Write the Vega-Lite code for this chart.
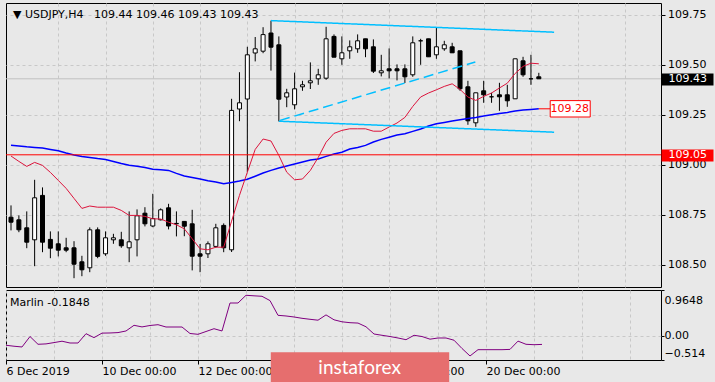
{
  "$schema": "https://vega.github.io/schema/vega-lite/v6.json",
  "background": "#e8e8e8",
  "padding": {"left": 3, "top": 2, "right": 0, "bottom": 0},
  "spacing": 1,
  "datasets": {
    "bars": [
      {"k":0,"open":108.738,"high":108.797,"low":108.672,"close":108.713,"ma_fast":109.044,"ma_slow":109.098,"marlin":-0.203},
      {"k":1,"open":108.725,"high":108.747,"low":108.663,"close":108.675,"ma_fast":109.017,"ma_slow":109.094,"marlin":-0.223},
      {"k":2,"open":108.685,"high":108.767,"low":108.583,"close":108.613,"ma_fast":108.992,"ma_slow":109.090,"marlin":-0.239},
      {"k":3,"open":108.625,"high":108.925,"low":108.493,"close":108.835,"ma_fast":109.012,"ma_slow":109.087,"marlin":-0.018},
      {"k":4,"open":108.847,"high":108.887,"low":108.563,"close":108.613,"ma_fast":108.997,"ma_slow":109.084,"marlin":-0.182},
      {"k":5,"open":108.627,"high":108.667,"low":108.533,"close":108.583,"ma_fast":108.962,"ma_slow":109.077,"marlin":-0.174},
      {"k":6,"open":108.605,"high":108.667,"low":108.542,"close":108.573,"ma_fast":108.922,"ma_slow":109.070,"marlin":-0.146},
      {"k":7,"open":108.585,"high":108.635,"low":108.563,"close":108.573,"ma_fast":108.882,"ma_slow":109.059,"marlin":-0.117},
      {"k":8,"open":108.585,"high":108.618,"low":108.433,"close":108.503,"ma_fast":108.832,"ma_slow":109.049,"marlin":-0.155},
      {"k":9,"open":108.515,"high":108.545,"low":108.443,"close":108.475,"ma_fast":108.782,"ma_slow":109.042,"marlin":-0.155},
      {"k":10,"open":108.485,"high":108.687,"low":108.463,"close":108.675,"ma_fast":108.794,"ma_slow":109.037,"marlin":0.042},
      {"k":11,"open":108.675,"high":108.687,"low":108.533,"close":108.542,"ma_fast":108.788,"ma_slow":109.031,"marlin":-0.041},
      {"k":12,"open":108.555,"high":108.667,"low":108.545,"close":108.635,"ma_fast":108.788,"ma_slow":109.026,"marlin":0.054},
      {"k":13,"open":108.625,"high":108.655,"low":108.605,"close":108.635,"ma_fast":108.788,"ma_slow":109.017,"marlin":0.057},
      {"k":14,"open":108.625,"high":108.665,"low":108.585,"close":108.595,"ma_fast":108.772,"ma_slow":109.007,"marlin":0.065},
      {"k":15,"open":108.585,"high":108.767,"low":108.513,"close":108.615,"ma_fast":108.747,"ma_slow":108.998,"marlin":0.099},
      {"k":16,"open":108.625,"high":108.777,"low":108.542,"close":108.745,"ma_fast":108.747,"ma_slow":108.993,"marlin":0.219},
      {"k":17,"open":108.758,"high":108.788,"low":108.692,"close":108.705,"ma_fast":108.742,"ma_slow":108.987,"marlin":0.185},
      {"k":18,"open":108.694,"high":108.855,"low":108.688,"close":108.731,"ma_fast":108.730,"ma_slow":108.978,"marlin":0.215},
      {"k":19,"open":108.725,"high":108.782,"low":108.722,"close":108.775,"ma_fast":108.729,"ma_slow":108.975,"marlin":0.232},
      {"k":20,"open":108.785,"high":108.805,"low":108.677,"close":108.694,"ma_fast":108.713,"ma_slow":108.972,"marlin":0.183},
      {"k":21,"open":108.707,"high":108.767,"low":108.642,"close":108.705,"ma_fast":108.700,"ma_slow":108.957,"marlin":0.183},
      {"k":22,"open":108.717,"high":108.717,"low":108.643,"close":108.693,"ma_fast":108.680,"ma_slow":108.944,"marlin":0.183},
      {"k":23,"open":108.705,"high":108.775,"low":108.472,"close":108.543,"ma_fast":108.630,"ma_slow":108.937,"marlin":0.046},
      {"k":24,"open":108.555,"high":108.604,"low":108.463,"close":108.543,"ma_fast":108.580,"ma_slow":108.929,"marlin":0.029},
      {"k":25,"open":108.555,"high":108.617,"low":108.534,"close":108.605,"ma_fast":108.575,"ma_slow":108.920,"marlin":0.088},
      {"k":26,"open":108.592,"high":108.705,"low":108.585,"close":108.685,"ma_fast":108.588,"ma_slow":108.914,"marlin":0.147},
      {"k":27,"open":108.697,"high":108.707,"low":108.563,"close":108.585,"ma_fast":108.588,"ma_slow":108.905,"marlin":0.099},
      {"k":28,"open":108.575,"high":109.330,"low":108.564,"close":109.272,"ma_fast":108.718,"ma_slow":108.912,"marlin":0.690},
      {"k":29,"open":109.279,"high":109.463,"low":109.218,"close":109.310,"ma_fast":108.847,"ma_slow":108.919,"marlin":0.690},
      {"k":30,"open":109.329,"high":109.590,"low":108.964,"close":109.550,"ma_fast":108.963,"ma_slow":108.928,"marlin":0.853},
      {"k":31,"open":109.559,"high":109.639,"low":109.517,"close":109.580,"ma_fast":109.077,"ma_slow":108.943,"marlin":0.842},
      {"k":32,"open":109.568,"high":109.688,"low":109.558,"close":109.651,"ma_fast":109.129,"ma_slow":108.959,"marlin":0.832},
      {"k":33,"open":109.659,"high":109.721,"low":109.471,"close":109.588,"ma_fast":109.119,"ma_slow":108.972,"marlin":0.741},
      {"k":34,"open":109.600,"high":109.642,"low":109.217,"close":109.328,"ma_fast":109.047,"ma_slow":108.984,"marlin":0.430},
      {"k":35,"open":109.339,"high":109.380,"low":109.288,"close":109.360,"ma_fast":108.963,"ma_slow":108.994,"marlin":0.416},
      {"k":36,"open":109.300,"high":109.461,"low":109.277,"close":109.380,"ma_fast":108.925,"ma_slow":109.004,"marlin":0.395},
      {"k":37,"open":109.390,"high":109.420,"low":109.370,"close":109.400,"ma_fast":108.929,"ma_slow":109.014,"marlin":0.367},
      {"k":38,"open":109.410,"high":109.512,"low":109.379,"close":109.420,"ma_fast":108.972,"ma_slow":109.024,"marlin":0.346},
      {"k":39,"open":109.430,"high":109.480,"low":109.400,"close":109.450,"ma_fast":109.037,"ma_slow":109.029,"marlin":0.327},
      {"k":40,"open":109.433,"high":109.690,"low":109.425,"close":109.630,"ma_fast":109.113,"ma_slow":109.042,"marlin":0.439},
      {"k":41,"open":109.642,"high":109.652,"low":109.538,"close":109.538,"ma_fast":109.157,"ma_slow":109.054,"marlin":0.335},
      {"k":42,"open":109.530,"high":109.642,"low":109.500,"close":109.560,"ma_fast":109.172,"ma_slow":109.063,"marlin":0.293},
      {"k":43,"open":109.570,"high":109.622,"low":109.530,"close":109.590,"ma_fast":109.180,"ma_slow":109.079,"marlin":0.274},
      {"k":44,"open":109.580,"high":109.652,"low":109.560,"close":109.620,"ma_fast":109.180,"ma_slow":109.087,"marlin":0.266},
      {"k":45,"open":109.630,"high":109.630,"low":109.538,"close":109.580,"ma_fast":109.180,"ma_slow":109.097,"marlin":0.188},
      {"k":46,"open":109.590,"high":109.627,"low":109.459,"close":109.468,"ma_fast":109.168,"ma_slow":109.114,"marlin":0.035},
      {"k":47,"open":109.460,"high":109.550,"low":109.442,"close":109.470,"ma_fast":109.168,"ma_slow":109.127,"marlin":0.008},
      {"k":48,"open":109.480,"high":109.582,"low":109.432,"close":109.470,"ma_fast":109.189,"ma_slow":109.138,"marlin":-0.018},
      {"k":49,"open":109.480,"high":109.502,"low":109.422,"close":109.470,"ma_fast":109.209,"ma_slow":109.149,"marlin":-0.049},
      {"k":50,"open":109.480,"high":109.502,"low":109.409,"close":109.440,"ma_fast":109.237,"ma_slow":109.155,"marlin":-0.085},
      {"k":51,"open":109.450,"high":109.642,"low":109.440,"close":109.610,"ma_fast":109.292,"ma_slow":109.167,"marlin":0.008},
      {"k":52,"open":109.620,"high":109.630,"low":109.500,"close":109.620,"ma_fast":109.339,"ma_slow":109.179,"marlin":-0.018},
      {"k":53,"open":109.630,"high":109.630,"low":109.540,"close":109.540,"ma_fast":109.359,"ma_slow":109.194,"marlin":-0.074},
      {"k":54,"open":109.550,"high":109.688,"low":109.530,"close":109.590,"ma_fast":109.375,"ma_slow":109.205,"marlin":-0.049},
      {"k":55,"open":109.580,"high":109.620,"low":109.570,"close":109.600,"ma_fast":109.392,"ma_slow":109.212,"marlin":-0.049},
      {"k":56,"open":109.590,"high":109.610,"low":109.560,"close":109.560,"ma_fast":109.405,"ma_slow":109.219,"marlin":-0.096},
      {"k":57,"open":109.570,"high":109.570,"low":109.370,"close":109.380,"ma_fast":109.377,"ma_slow":109.225,"marlin":-0.271},
      {"k":58,"open":109.390,"high":109.420,"low":109.200,"close":109.220,"ma_fast":109.339,"ma_slow":109.231,"marlin":-0.429},
      {"k":59,"open":109.210,"high":109.360,"low":109.190,"close":109.360,"ma_fast":109.322,"ma_slow":109.237,"marlin":-0.296},
      {"k":60,"open":109.370,"high":109.420,"low":109.310,"close":109.350,"ma_fast":109.342,"ma_slow":109.244,"marlin":-0.296},
      {"k":61,"open":109.340,"high":109.360,"low":109.310,"close":109.340,"ma_fast":109.359,"ma_slow":109.250,"marlin":-0.296},
      {"k":62,"open":109.350,"high":109.410,"low":109.270,"close":109.340,"ma_fast":109.384,"ma_slow":109.256,"marlin":-0.296},
      {"k":63,"open":109.350,"high":109.400,"low":109.290,"close":109.320,"ma_fast":109.408,"ma_slow":109.262,"marlin":-0.290},
      {"k":64,"open":109.330,"high":109.530,"low":109.330,"close":109.530,"ma_fast":109.457,"ma_slow":109.269,"marlin":-0.115},
      {"k":65,"open":109.520,"high":109.540,"low":109.440,"close":109.450,"ma_fast":109.492,"ma_slow":109.274,"marlin":-0.182},
      {"k":66,"open":109.430,"high":109.550,"low":109.400,"close":109.430,"ma_fast":109.508,"ma_slow":109.277,"marlin":-0.191},
      {"k":67,"open":109.440,"high":109.460,"low":109.430,"close":109.430,"ma_fast":109.505,"ma_slow":109.280,"marlin":-0.1848}
    ],
    "trend": [
      {"k1":33,"p1":109.721,"k2":68.94,"p2":109.663,"kind":"resistance"},
      {"k1":34,"p1":109.218,"k2":68.94,"p2":109.163,"kind":"support"},
      {"k1":34.15,"p1":109.222,"k2":58.94,"p2":109.514,"kind":"median"}
    ]
  },
  "config": {
    "view": {"fill": "#e8e8e8", "stroke": "#000000", "strokeWidth": 1},
    "axis": {"labelFont": "DejaVu Sans", "labelFontSize": 11, "labelColor": "#000000", "tickColor": "#000000", "gridColor": "#c8c8c8", "gridDash": [3, 3], "gridWidth": 1, "domain": false, "labelOverlap": false, "labelFlush": false}
  },
  "vconcat": [
    {
      "width": 655,
      "height": 284,
      "data": {"name": "bars"},
      "resolve": {"axis": {"y": "independent"}},
      "layer": [
        {
          "data": {"values": [{}]},
          "mark": {"type": "rule", "color": "#c0c0c0", "strokeWidth": 1},
          "encoding": {
            "y": {"datum": 109.43, "type": "quantitative", "title": null,
              "axis": {"orient": "right", "values": [109.43, 109.05], "format": ".2f", "grid": false, "tickSize": 52, "tickWidth": 12,
                "tickColor": {"condition": {"test": "datum.value < 109.2", "value": "#ff0000"}, "value": "#000000"},
                "labelColor": "#ffffff", "labelPadding": -45, "zindex": 1, "title": null}}
          }
        },
        {
          "mark": {"type": "rule", "color": "#000000", "strokeWidth": 1, "clip": true},
          "encoding": {
            "x": {"field": "k", "type": "quantitative", "title": null, "scale": {"domain": [0, 81.875], "nice": false, "zero": false},
              "axis": {"orient": "bottom", "values": [6,12,18,24,30,36,42,48,54,60,66,72,78], "grid": true, "ticks": false, "labels": false, "domain": false, "title": null}},
            "y": {"field": "low", "type": "quantitative", "title": null, "scale": {"domain": [108.389, 109.809], "nice": false, "zero": false},
              "axis": {"orient": "right", "values": [108.5, 108.75, 109, 109.25, 109.5, 109.75], "format": ".2f", "tickSize": 4, "labelPadding": 2.5, "grid": true, "title": null}},
            "y2": {"field": "high"}
          }
        },
        {
          "mark": {"type": "bar", "size": 4, "stroke": "#000000", "strokeWidth": 1, "clip": true},
          "encoding": {
            "x": {"field": "k", "type": "quantitative", "title": null},
            "y": {"field": "open", "type": "quantitative", "title": null, "axis": null},
            "y2": {"field": "close"},
            "fill": {"condition": {"test": "datum.close >= datum.open", "value": "#ffffff"}, "value": "#000000"}
          }
        },
        {
          "mark": {"type": "line", "color": "#0000ff", "strokeWidth": 1.5, "clip": true},
          "encoding": {
            "x": {"field": "k", "type": "quantitative", "title": null},
            "y": {"field": "ma_slow", "type": "quantitative", "title": null, "axis": null}
          }
        },
        {
          "mark": {"type": "line", "color": "#dc143c", "strokeWidth": 1, "clip": true},
          "encoding": {
            "x": {"field": "k", "type": "quantitative", "title": null},
            "y": {"field": "ma_fast", "type": "quantitative", "title": null, "axis": null}
          }
        },
        {
          "data": {"name": "trend"},
          "mark": {"type": "rule", "color": "#00bfff", "strokeWidth": 1.5},
          "encoding": {
            "x": {"field": "k1", "type": "quantitative", "title": null},
            "x2": {"field": "k2"},
            "y": {"field": "p1", "type": "quantitative", "title": null, "axis": null},
            "y2": {"field": "p2"},
            "strokeDash": {"field": "kind", "type": "nominal", "legend": null,
              "scale": {"domain": ["resistance", "support", "median"], "range": [[1, 0], [1, 0], [10, 5]]}}
          }
        },
        {
          "data": {"values": [{}]},
          "mark": {"type": "rule", "color": "#ff0000", "strokeWidth": 1},
          "encoding": {
            "y": {"datum": 109.05, "type": "quantitative", "title": null, "axis": null}
          }
        },
        {
          "data": {"values": [{"k": 67, "p": 109.28, "label": "109.28"}]},
          "mark": {"type": "point", "shape": "M0,0H0.57M0.57,-0.41H2.57V0.41H0.57Z", "size": 1600, "filled": true, "color": "#ffffff", "stroke": "#ff0000", "strokeWidth": 1, "opacity": 1},
          "encoding": {
            "x": {"field": "k", "type": "quantitative", "title": null},
            "y": {"field": "p", "type": "quantitative", "title": null, "axis": null}
          }
        },
        {
          "data": {"values": [{"k": 67, "p": 109.28, "label": "109.28"}]},
          "mark": {"type": "text", "dx": 31, "align": "center", "baseline": "middle", "font": "DejaVu Sans", "fontSize": 11, "color": "#ff0000"},
          "encoding": {
            "x": {"field": "k", "type": "quantitative", "title": null},
            "y": {"field": "p", "type": "quantitative", "title": null, "axis": null},
            "text": {"field": "label"}
          }
        },
        {
          "data": {"values": [{"label": "▼\u00a0USDJPY,H4\u00a0\u00a0\u00a0109.44\u00a0109.46\u00a0109.43\u00a0109.43"}]},
          "mark": {"type": "text", "align": "left", "baseline": "alphabetic", "dx": 2, "font": "DejaVu Sans", "fontSize": 11, "color": "#000000"},
          "encoding": {
            "x": {"datum": 0, "type": "quantitative", "title": null},
            "y": {"datum": 109.735, "type": "quantitative", "title": null, "axis": null},
            "text": {"field": "label"}
          }
        }
      ]
    },
    {
      "width": 655,
      "height": 70,
      "resolve": {"axis": {"y": "independent"}},
      "layer": [
        {
          "data": {"name": "bars"},
          "mark": {"type": "line", "color": "#800080", "strokeWidth": 1},
          "encoding": {
            "x": {"field": "k", "type": "quantitative", "title": null, "scale": {"domain": [0, 81.875], "nice": false, "zero": false},
              "axis": {"orient": "bottom", "values": [0,6,12,18,24,30,36,42,48,54,60,66,72,78], "grid": true, "tickSize": 4,
                "tickOpacity": {"condition": {"test": "datum.value % 12 == 0 && datum.value <= 60", "value": 1}, "value": 0},
                "labelExpr": "datum.value == 0 ? '6 Dec 2019' : datum.value == 12 ? '10 Dec 00:00' : datum.value == 24 ? '12 Dec 00:00' : datum.value == 36 ? '16 Dec 00:00' : datum.value == 48 ? '18 Dec 00:00' : datum.value == 60 ? '20 Dec 00:00' : ''",
                "labelAlign": "left", "labelBaseline": "top", "labelPadding": 1, "domain": false, "title": null}},
            "y": {"field": "marlin", "type": "quantitative", "title": null, "scale": {"domain": [-0.514, 0.9648], "nice": false, "zero": false},
              "axis": {"orient": "right", "values": [0], "format": ".2f", "tickSize": 3, "labelPadding": 0, "grid": true, "title": null}}
          }
        },
        {
          "data": {"values": [{}]},
          "mark": {"type": "rect", "color": "#e66e6e"},
          "encoding": {
            "x": {"datum": 33.1, "type": "quantitative", "title": null},
            "x2": {"datum": 55.4},
            "y": {"datum": -0.349, "type": "quantitative", "title": null,
              "axis": {"orient": "right", "values": [0.9648], "format": ".4f", "tickSize": 3, "labelPadding": 0, "labelOffset": 10, "grid": false, "title": null}},
            "y2": {"datum": -1.06}
          }
        },
        {
          "data": {"values": [{"brand": "instaforex"}]},
          "mark": {"type": "text", "color": "#ffffff", "font": "Lato", "fontSize": 19, "align": "center", "baseline": "alphabetic"},
          "encoding": {
            "x": {"datum": 44.2, "type": "quantitative", "title": null},
            "y": {"datum": -0.806, "type": "quantitative", "title": null,
              "axis": {"orient": "right", "values": [-0.514], "format": ".3f", "tickSize": 3, "labelPadding": 0, "labelOffset": -7, "grid": false, "title": null}},
            "text": {"field": "brand"}
          }
        },
        {
          "data": {"values": [{"label": "Marlin -0.1848"}]},
          "mark": {"type": "text", "align": "left", "baseline": "alphabetic", "dx": 4, "font": "DejaVu Sans", "fontSize": 11, "color": "#000000"},
          "encoding": {
            "x": {"datum": 0, "type": "quantitative", "title": null},
            "y": {"datum": 0.637, "type": "quantitative", "title": null, "axis": null},
            "text": {"field": "label"}
          }
        }
      ]
    }
  ]
}
